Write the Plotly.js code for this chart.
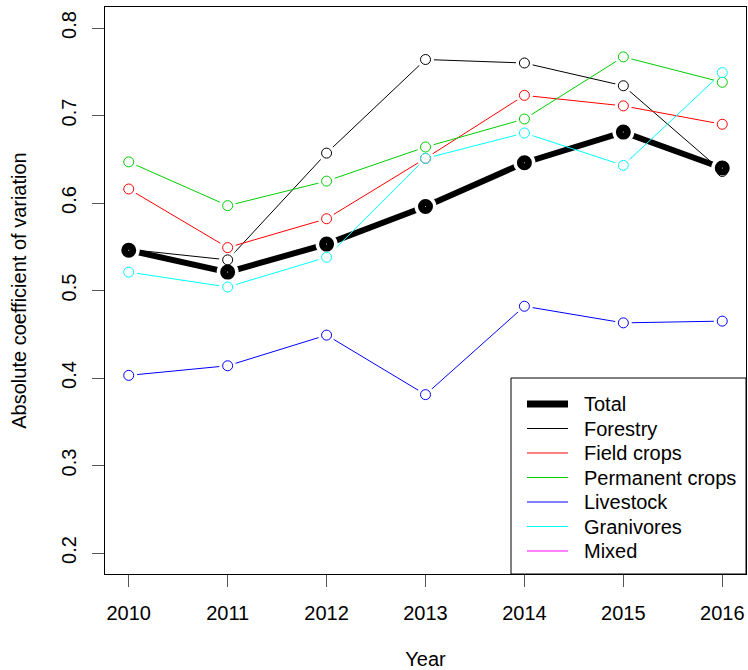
<!DOCTYPE html>
<html>
<head>
<meta charset="utf-8">
<script src="https://cdn.plot.ly/plotly-3.0.1.min.js"></script>
<style>
  html, body { margin: 0; padding: 0; background: #ffffff; }
  #chart { width: 748px; height: 670px; }
</style>
</head>
<body>
<div id="chart"></div>
<script>
// Absolute coefficient of variation by farm type, 2010-2016
const years = [2010, 2011, 2012, 2013, 2014, 2015, 2016];

const seriesNames = ['Total', 'Forestry', 'Field crops', 'Permanent crops', 'Livestock', 'Granivores', 'Mixed'];

const total          = [0.546, 0.521, 0.553, 0.596, 0.646, 0.681, 0.640];
const forestry       = [0.547, 0.535, 0.657, 0.764, 0.760, 0.734, 0.636];
const fieldCrops     = [0.616, 0.549, 0.582, 0.651, 0.723, 0.711, 0.690];
const permanentCrops = [0.647, 0.597, 0.625, 0.664, 0.696, 0.767, 0.738];
const livestock      = [0.403, 0.414, 0.449, 0.381, 0.482, 0.463, 0.465];
const granivores     = [0.521, 0.504, 0.538, 0.651, 0.680, 0.643, 0.749];
const mixed          = [null, null, null, null, null, null, null];

const yTickVals = [0.2, 0.3, 0.4, 0.5, 0.6, 0.7, 0.8];
const yTickText = ['0.2', '0.3', '0.4', '0.5', '0.6', '0.7', '0.8'];
const xTickText = ['2010', '2011', '2012', '2013', '2014', '2015', '2016'];

const seriesValues = [total, forestry, fieldCrops, permanentCrops, livestock, granivores, mixed];
const seriesColors = ['#000000', '#000000', '#FF0000', '#00CD00', '#0000FF', '#00FFFF', '#FF00FF'];
const lineWidths   = [6, 1, 1, 1, 1, 1, 1];

const FONT = 'Liberation Sans, Arial, sans-serif';
const W = 748, H = 670;
const M = { l: 105, r: 2, t: 7, b: 96 };
const plotW = W - M.l - M.r, plotH = H - M.t - M.b;
const px2x = px => (px - M.l) / plotW;
const px2y = py => (H - M.b - py) / plotH;

const traces = [];

// connecting lines
seriesValues.forEach((vals, i) => {
  traces.push({
    type: 'scatter', mode: 'lines', x: years, y: vals,
    line: { color: seriesColors[i], width: lineWidths[i] },
    showlegend: false, hoverinfo: 'skip', connectgaps: false
  });
});

// white gaps around each point (lines stop short of the symbols)
seriesValues.forEach((vals, i) => {
  traces.push({
    type: 'scatter', mode: 'markers', x: years, y: vals,
    marker: { symbol: 'circle', color: '#ffffff', size: i === 0 ? 22 : 17, line: { width: 0 } },
    showlegend: false, hoverinfo: 'skip'
  });
});

// point symbols: heavy ring for the total, thin open circles for the farm types
seriesValues.forEach((vals, i) => {
  traces.push({
    type: 'scatter', mode: 'markers', x: years, y: vals,
    marker: {
      symbol: 'circle-open',
      size: i === 0 ? 8 : 10,
      color: seriesColors[i],
      line: { color: seriesColors[i], width: i === 0 ? 7 : 1 }
    },
    showlegend: false, name: seriesNames[i]
  });
});

// boxed key in the lower right corner
const keyLeft = 511, keyTop = 378;
const keyLineX0 = 527, keyLineX1 = 568, keyTextX = 582;
const keyRow0 = 404, keyRowStep = 24.5;

const shapes = [{
  type: 'rect', xref: 'paper', yref: 'paper', layer: 'above',
  x0: px2x(keyLeft), x1: 1, y0: 0, y1: px2y(keyTop),
  fillcolor: '#ffffff', line: { color: '#000000', width: 1 }
}];
const annotations = [];
seriesNames.forEach((name, i) => {
  const yy = px2y(keyRow0 + i * keyRowStep);
  shapes.push({
    type: 'line', xref: 'paper', yref: 'paper', layer: 'above',
    x0: px2x(keyLineX0), x1: px2x(keyLineX1), y0: yy, y1: yy,
    line: { color: seriesColors[i], width: lineWidths[i] === 6 ? 7 : 1 }
  });
  annotations.push({
    xref: 'paper', yref: 'paper', x: px2x(keyTextX), y: yy,
    xanchor: 'left', yanchor: 'middle', showarrow: false,
    text: name, font: { family: FONT, size: 20, color: '#000000' }
  });
});

const layout = {
  width: W, height: H,
  margin: M,
  paper_bgcolor: '#ffffff', plot_bgcolor: '#ffffff',
  font: { family: FONT, size: 20, color: '#000000' },
  showlegend: false,
  xaxis: {
    range: [2009.76, 2016.24],
    tickvals: years, ticktext: xTickText,
    ticks: 'outside', ticklen: 12, tickwidth: 1, tickcolor: '#555555',
    showline: true, mirror: true, linecolor: '#000000', linewidth: 1,
    showgrid: false, zeroline: false,
    tickfont: { family: FONT, size: 20, color: '#000000' },
    ticklabelstandoff: 9,
    title: { text: 'Year', font: { family: FONT, size: 20, color: '#000000' }, standoff: 32 }
  },
  yaxis: {
    range: [0.176, 0.824],
    tickvals: yTickVals, ticktext: yTickText,
    ticks: 'outside', ticklen: 12, tickwidth: 1, tickcolor: '#555555',
    tickangle: -90,
    showline: true, mirror: true, linecolor: '#000000', linewidth: 1,
    showgrid: false, zeroline: false,
    tickfont: { family: FONT, size: 20, color: '#000000' },
    ticklabelstandoff: 8,
    title: { text: 'Absolute coefficient of variation', font: { family: FONT, size: 20, color: '#000000' }, standoff: 26 }
  },
  shapes: shapes,
  annotations: annotations
};

Plotly.newPlot('chart', traces, layout, { staticPlot: true, displayModeBar: false });
</script>
</body>
</html>
